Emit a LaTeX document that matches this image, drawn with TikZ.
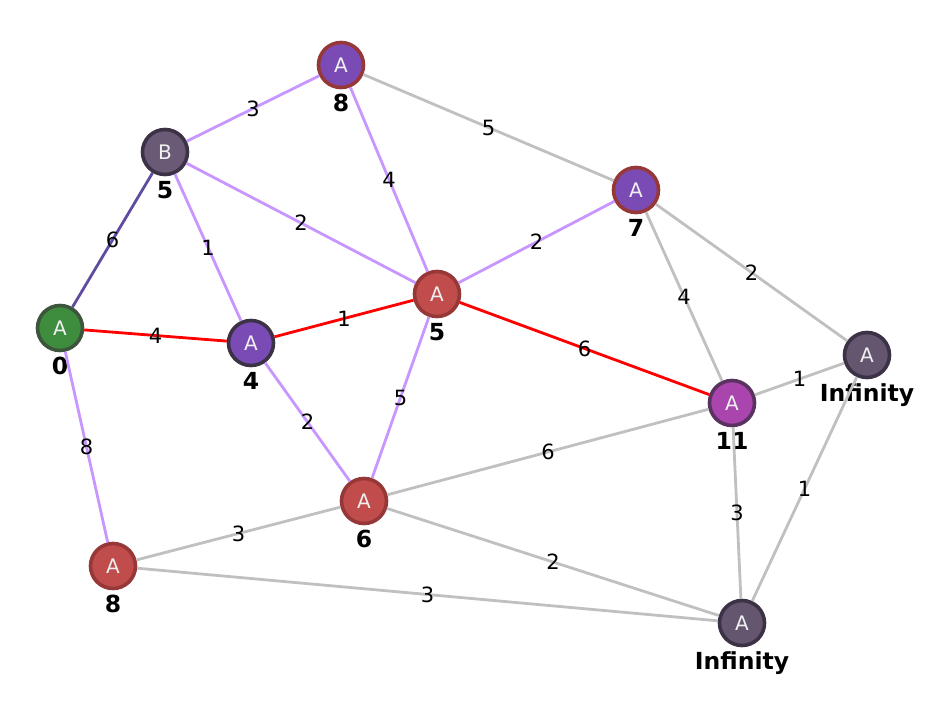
\documentclass[tikz,border=0pt]{standalone}
\usepackage{fontspec}
\setmainfont{DejaVu Sans}
\definecolor{lav}{RGB}{200,150,255}
\definecolor{deep}{RGB}{95,75,160}
\definecolor{pale}{RGB}{192,192,192}
\definecolor{grn}{RGB}{62,140,62}
\definecolor{grnrim}{RGB}{60,85,60}
\definecolor{redf}{RGB}{192,76,76}
\definecolor{redrim}{RGB}{150,56,56}
\definecolor{purf}{RGB}{122,75,180}
\definecolor{magf}{RGB}{169,69,173}
\definecolor{magrim}{RGB}{90,50,95}
\definecolor{gryf}{RGB}{100,86,111}
\definecolor{gryrim}{RGB}{60,50,70}
\definecolor{bf}{RGB}{106,90,117}
\begin{document}
\begin{tikzpicture}[x=1pt,y=-1pt,
    vertex/.style={circle,minimum size=45pt,inner sep=0pt,line width=3.6pt,
      text=white!94!black,font=\fontsize{20}{20}\selectfont},
    dist/.style={font=\bfseries\fontsize{23.5}{24}\selectfont,inner sep=0pt,anchor=base},
    wt/.style={font=\fontsize{21}{21}\selectfont,inner sep=0pt},
    tree/.style={draw=lav,line width=2.8pt},
    path/.style={draw=red,line width=2.8pt},
    rest/.style={draw=pale,line width=2.8pt}]
  \useasboundingbox (0,0) rectangle (951,710);
  % vertices
  \node[vertex,fill=grn,draw=grnrim] (s) at (60,328) {A};
  \node[vertex,fill=bf,draw=gryrim] (b) at (165,152) {B};
  \node[vertex,fill=purf,draw=redrim] (t) at (341,65) {A};
  \node[vertex,fill=purf,draw=gryrim] (f) at (251,343) {A};
  \node[vertex,fill=redf,draw=redrim] (c) at (437,294) {A};
  \node[vertex,fill=purf,draw=redrim] (g) at (636,190) {A};
  \node[vertex,fill=gryf,draw=gryrim] (h) at (867,355) {A};
  \node[vertex,fill=magf,draw=magrim] (k) at (732,403) {A};
  \node[vertex,fill=redf,draw=redrim] (m) at (364,501) {A};
  \node[vertex,fill=redf,draw=redrim] (p) at (113,566) {A};
  \node[vertex,fill=gryf,draw=gryrim] (q) at (742,623) {A};
  % distances
  \node[dist] (ds) at ([yshift=-46pt]s.center) {0};
  \node[dist] (db) at ([yshift=-46pt]b.center) {5};
  \node[dist] (dt) at ([yshift=-46pt]t.center) {8};
  \node[dist] (df) at ([yshift=-46pt]f.center) {4};
  \node[dist] (dc) at ([yshift=-46pt]c.center) {5};
  \node[dist] (dg) at ([yshift=-46pt]g.center) {7};
  \node[dist] (dh) at ([yshift=-46pt]h.center) {Infinity};
  \node[dist] (dk) at ([yshift=-46pt]k.center) {11};
  \node[dist] (dm) at ([yshift=-46pt]m.center) {6};
  \node[dist] (dp) at ([yshift=-46pt]p.center) {8};
  \node[dist] (dq) at ([yshift=-46pt]q.center) {Infinity};
  % edges
  \draw[draw=deep,line width=2.8pt] (s) -- (b) node[wt,midway] {6};
  \draw[tree] (b) -- (t) node[wt,midway] {3};
  \draw[tree] (b) -- (f) node[wt,midway] {1};
  \draw[tree] (b) -- (c) node[wt,midway] {2};
  \draw[tree] (t) -- (c) node[wt,midway] {4};
  \draw[tree] (c) -- (g) node[wt,midway] {2};
  \draw[tree] (c) -- (m) node[wt,midway] {5};
  \draw[tree] (f) -- (m) node[wt,midway] {2};
  \draw[tree] (s) -- (p) node[wt,midway] {8};
  \draw[path] (s) -- (f) node[wt,midway] {4};
  \draw[path] (f) -- (c) node[wt,midway] {1};
  \draw[path] (c) -- (k) node[wt,midway] {6};
  \draw[rest] (t) -- (g) node[wt,midway] {5};
  \draw[rest] (g) -- (k) node[wt,midway] {4};
  \draw[rest] (g) -- (h) node[wt,midway] {2};
  \draw[rest] (k) -- (h) node[wt,midway] {1};
  \draw[rest] (m) -- (k) node[wt,midway] {6};
  \draw[rest] (k) -- (q) node[wt,midway] {3};
  \draw[rest] (h) -- (q) node[wt,midway] {1};
  \draw[rest] (p) -- (m) node[wt,midway] {3};
  \draw[rest] (m) -- (q) node[wt,midway] {2};
  \draw[rest] (p) -- (q) node[wt,midway] {3};
\end{tikzpicture}
\end{document}
